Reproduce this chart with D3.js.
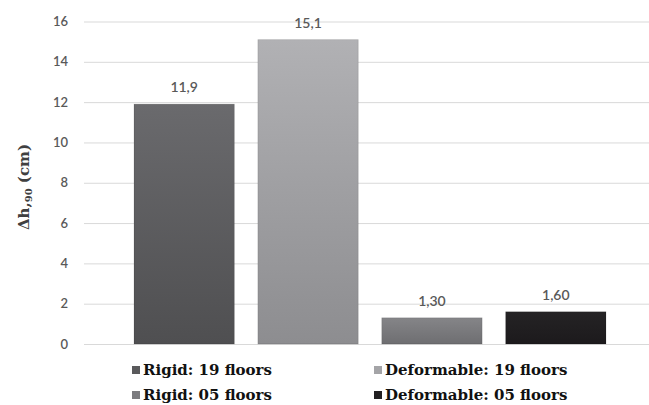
<!DOCTYPE html>
<html><head><meta charset="utf-8">
<script src="https://cdn.jsdelivr.net/npm/d3@7"></script>
<style>html,body{margin:0;padding:0;background:#fff;}svg{display:block;}</style>
</head><body>
<svg id="c" width="649" height="405"></svg>
<script>
const categories = ["Rigid: 19 floors", "Deformable: 19 floors", "Rigid: 05 floors", "Deformable: 05 floors"];
const values = [11.9, 15.1, 1.30, 1.60];
const valueLabels = ["11,9", "15,1", "1,30", "1,60"];
const yTicks = [0, 2, 4, 6, 8, 10, 12, 14, 16];
const colorsTop = ["#6a6a6d", "#b1b1b4", "#858588", "#252325"];
const colorsBottom = ["#4f4f51", "#8d8d90", "#6e6e71", "#1c1a1c"];
const legendColors = ["#5a5a5c", "#a4a4a7", "#7c7c7f", "#222022"];

const svg = d3.select("#c");
const x = d3.scaleBand().domain(categories).range([134, 606]).paddingInner(0.19).paddingOuter(0);
const y = d3.scaleLinear().domain([0, 16]).range([344, 21.5]);

const defs = svg.append("defs");
categories.forEach((c, i) => {
  const g = defs.append("linearGradient").attr("id", "g" + i).attr("x1", 0).attr("y1", 0).attr("x2", 0).attr("y2", 1);
  g.append("stop").attr("offset", "0%").attr("stop-color", colorsTop[i]);
  g.append("stop").attr("offset", "100%").attr("stop-color", colorsBottom[i]);
});

// gridlines
const yAxis = d3.axisLeft(y).tickValues(yTicks).tickSize(-(649 - 84)).tickPadding(16).tickFormat(d3.format("d"));
const ga = svg.append("g").attr("transform", "translate(84,0)").call(yAxis);
ga.select(".domain").remove();
ga.selectAll(".tick line").attr("stroke", "#d9d9d9").attr("stroke-width", 1);
ga.selectAll(".tick text").attr("fill", "#595959").style("font-family", "Lato, 'Open Sans', sans-serif").style("font-size", "13px").style("font-weight", "600");

// bars
svg.append("g").selectAll("rect").data(values).join("rect")
  .attr("x", (d, i) => x(categories[i]))
  .attr("y", d => y(d))
  .attr("width", x.bandwidth())
  .attr("height", d => y(0) - y(d))
  .attr("fill", (d, i) => `url(#g${i})`)
  .attr("stroke", "rgba(0,0,0,0.15)").attr("stroke-width", 0.8);

// value labels
svg.append("g").selectAll("text").data(values).join("text")
  .attr("x", (d, i) => x(categories[i]) + x.bandwidth() / 2)
  .attr("y", d => y(d) - 12)
  .attr("text-anchor", "middle")
  .attr("fill", "#595959")
  .style("font-family", "Lato, 'Open Sans', sans-serif").style("font-size", "14px").style("font-weight", "600")
  .text((d, i) => valueLabels[i]);

// y axis title
const t = svg.append("text").attr("transform", "translate(29,187) rotate(-90)")
  .attr("text-anchor", "middle").attr("fill", "#404040")
  .style("font-family", "'DejaVu Serif', serif").style("font-size", "15px").style("font-weight", "bold");
t.append("tspan").text("Δh,");
t.append("tspan").attr("dy", 3).style("font-size", "10px").text("90");
t.append("tspan").attr("dy", -3).text(" (cm)");

// legend
const legPos = [[132, 375], [374, 375], [132, 400], [374, 400]];
const lg = svg.append("g").selectAll("g").data(categories).join("g")
  .attr("transform", (d, i) => `translate(${legPos[i][0]},${legPos[i][1]})`);
lg.append("rect").attr("x", 0).attr("y", -9).attr("width", 8).attr("height", 8).attr("fill", (d, i) => legendColors[i]);
lg.append("text").attr("x", 11).attr("y", 0).attr("fill", "#111")
  .style("font-family", "'DejaVu Serif', serif").style("font-size", "15px").style("font-weight", "bold")
  .text(d => d);
</script>
</body></html>
